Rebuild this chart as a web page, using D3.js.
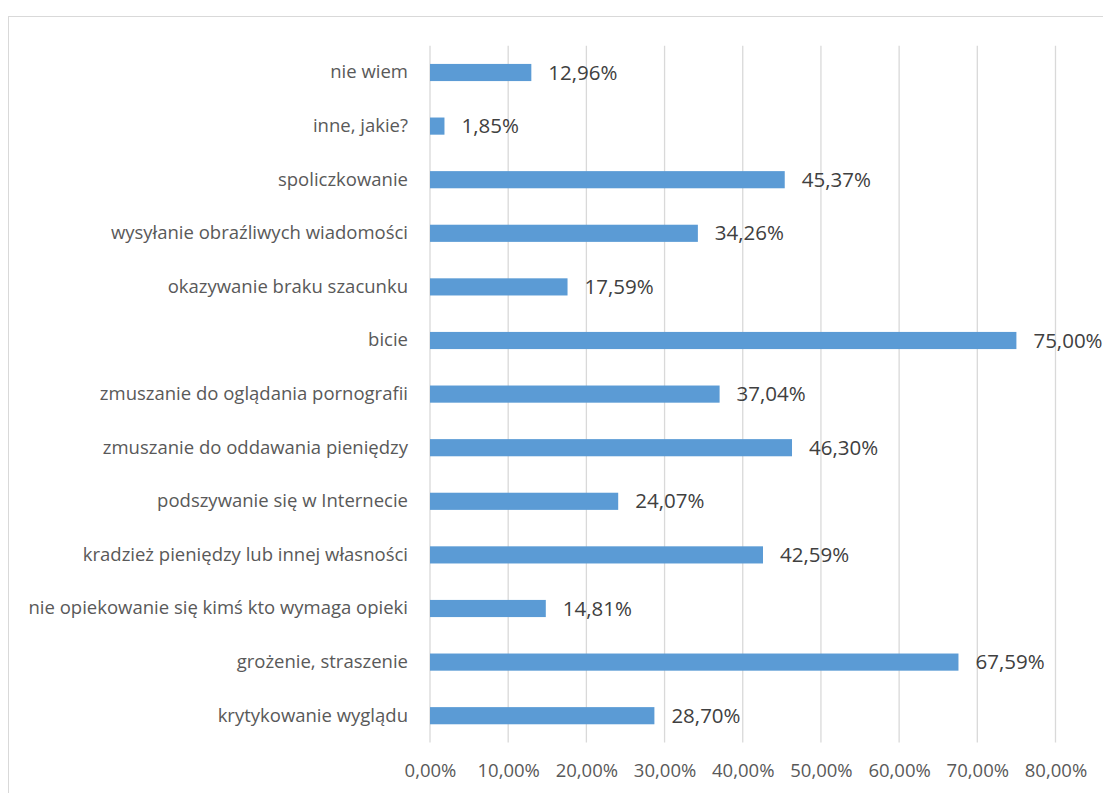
<!DOCTYPE html>
<html>
<head>
<meta charset="utf-8">
<script src="https://cdn.jsdelivr.net/npm/d3@7"></script>
<style>
  body { margin: 0; background: #fff; }
  svg text { font-family: "Open Sans", sans-serif; }
</style>
</head>
<body>
<div class="barChart"></div>
<script>
// categories top to bottom, as shown
const categories = [
    "nie wiem",
    "inne, jakie?",
    "spoliczkowanie",
    "wysyłanie obraźliwych wiadomości",
    "okazywanie braku szacunku",
    "bicie",
    "zmuszanie do oglądania pornografii",
    "zmuszanie do oddawania pieniędzy",
    "podszywanie się w Internecie",
    "kradzież pieniędzy lub innej własności",
    "nie opiekowanie się kimś kto wymaga opieki",
    "grożenie, straszenie",
    "krytykowanie wyglądu"
];
const values = [12.96, 1.85, 45.37, 34.26, 17.59, 75.00, 37.04, 46.30, 24.07, 42.59, 14.81, 67.59, 28.70];
const ticks = [0, 10, 20, 30, 40, 50, 60, 70, 80];

const fmt = v => v.toFixed(2).replace('.', ',') + '%';

function drawBarChart() {
    let margin = {top: 45.7, right: 47.5, bottom: 50.5, left: 430};
    let svg = d3.select('.barChart')
        .append('svg')
        .attr('width', 1103)
        .attr('height', 793);
    let width = 1103 - margin.left - margin.right;
    let height = 793 - margin.top - margin.bottom;

    // chart frame
    svg.append('rect')
        .attr('x', 8.5).attr('y', 16.5)
        .attr('width', 1110).attr('height', 800)
        .attr('fill', 'none')
        .attr('stroke', '#d9d9d9')
        .attr('stroke-width', 1);

    let x = d3.scaleLinear().domain([0, 80]).range([0, width]);
    let y = d3.scaleBand().domain(categories).range([0, height]).paddingInner(0.68).paddingOuter(0.34);

    let g = svg.append('g')
        .attr('transform', 'translate(' + margin.left + ',' + margin.top + ')');

    // vertical grid
    g.selectAll('.grid')
        .data(ticks)
        .enter().append('line')
        .attr('class', 'grid')
        .attr('x1', d => x(d)).attr('x2', d => x(d))
        .attr('y1', 0).attr('y2', height)
        .attr('stroke', '#d9d9d9')
        .attr('stroke-width', 1.3);

    // x axis labels
    let xAxis = g.append('g')
        .attr('transform', 'translate(0,' + height + ')')
        .call(d3.axisBottom(x).tickValues(ticks).tickFormat(fmt).tickSize(0).tickPadding(21));
    xAxis.select('.domain').remove();
    xAxis.selectAll('text')
        .attr('fill', '#595959')
        .style('font-size', '18.5px');

    // y axis labels
    let yAxis = g.append('g')
        .call(d3.axisLeft(y).tickSize(0).tickPadding(22));
    yAxis.select('.domain').remove();
    yAxis.selectAll('text')
        .attr('fill', '#595959')
        .style('font-size', '18.5px');

    g.selectAll('.bar')
        .data(values)
        .enter().append('rect')
        .attr('class', 'bar')
        .attr('x', 0)
        .attr('y', (d, i) => y(categories[i]))
        .attr('width', d => x(d))
        .attr('height', y.bandwidth())
        .attr('fill', '#5b9bd5');

    g.selectAll('.val')
        .data(values)
        .enter().append('text')
        .attr('class', 'val')
        .attr('x', d => x(d) + 17)
        .attr('y', (d, i) => y(categories[i]) + y.bandwidth() / 2)
        .attr('dy', '0.35em')
        .attr('fill', '#404040')
        .style('font-size', '20.5px')
        .text(d => fmt(d));
}

drawBarChart();
</script>
</body>
</html>
